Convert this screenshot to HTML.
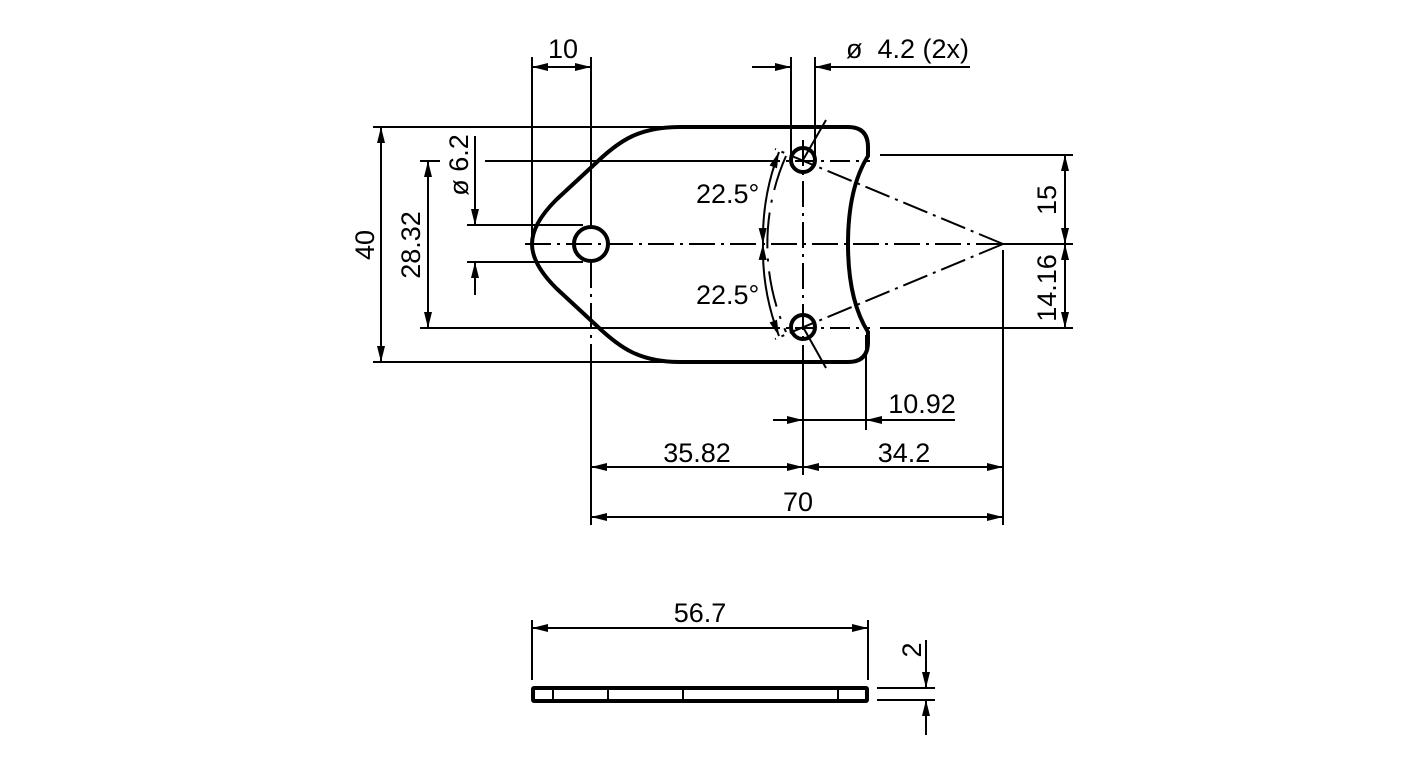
<!DOCTYPE html>
<html><head><meta charset="utf-8"><style>
html,body{margin:0;padding:0;background:#fff;}
svg{display:block;}
text{font-family:"Liberation Sans",sans-serif;font-size:27px;fill:#000;}
</style></head><body>
<svg width="1416" height="779" viewBox="0 0 1416 779" xmlns="http://www.w3.org/2000/svg">
<defs>
<marker id="a" viewBox="0 0 16 8" refX="16" refY="4" markerWidth="16" markerHeight="8" markerUnits="userSpaceOnUse" orient="auto-start-reverse">
<path d="M0,0 L16,4 L0,8 Z" fill="#000"/></marker>
</defs>
<g stroke="#000" fill="none" stroke-width="2">
<path stroke-width="4" d="M680 127 C640 127 620 140 597 162 L556 200 Q532 224 532 244 Q532 264 556 288 L597 326 C620 348 640 362 680 362 L848 362 Q868 362 868 342 L868 332 Q848 300 848 244 Q848 188 868 156 L868 147 Q868 127 848 127 Z"/>
<circle cx="591" cy="244" r="17" stroke-width="4"/>
<circle cx="803" cy="160" r="12" stroke-width="4"/>
<circle cx="803" cy="327" r="12" stroke-width="4"/>
<line x1="525" y1="244" x2="1015" y2="244" stroke-dasharray="26,6,3,6"/>
<line x1="591" y1="262" x2="591" y2="345" stroke-dasharray="26,6,3,6"/>
<line x1="803" y1="140" x2="803" y2="345" stroke-dasharray="26,6,3,6"/>
<line x1="1003" y1="244" x2="775" y2="149" stroke-dasharray="26,6,3,6"/>
<line x1="1003" y1="244" x2="775" y2="339" stroke-dasharray="26,6,3,6"/>
<path d="M786 156 A217 217 0 0 0 786 332" stroke-dasharray="36,10,3,10"/>
<line x1="803" y1="160" x2="826" y2="120"/>
<line x1="803" y1="327" x2="826" y2="368"/>
<line x1="373" y1="127" x2="680" y2="127"/>
<line x1="373" y1="362" x2="680" y2="362"/>
<line x1="420" y1="161" x2="440" y2="161"/>
<line x1="485" y1="161" x2="760" y2="161"/>
<line x1="420" y1="328" x2="760" y2="328"/>
<line x1="760" y1="161" x2="870" y2="161" stroke-dasharray="20,6,3,6"/>
<line x1="760" y1="328" x2="870" y2="328" stroke-dasharray="20,6,3,6"/>
<line x1="880" y1="155" x2="1073" y2="155"/>
<line x1="880" y1="328" x2="1073" y2="328"/>
<line x1="467" y1="225" x2="583" y2="225"/>
<line x1="467" y1="262" x2="583" y2="262"/>
<line x1="381" y1="127" x2="381" y2="362" marker-start="url(#a)" marker-end="url(#a)"/>
<line x1="428" y1="161" x2="428" y2="328" marker-start="url(#a)" marker-end="url(#a)"/>
<line x1="475" y1="136" x2="475" y2="225" marker-end="url(#a)"/>
<line x1="475" y1="295" x2="475" y2="262" marker-end="url(#a)"/>
<line x1="532" y1="57" x2="532" y2="236"/>
<line x1="591" y1="57" x2="591" y2="226"/>
<line x1="532" y1="67" x2="591" y2="67" marker-start="url(#a)" marker-end="url(#a)"/>
<line x1="791" y1="57" x2="791" y2="160"/>
<line x1="815" y1="57" x2="815" y2="160"/>
<line x1="752" y1="67" x2="791" y2="67" marker-end="url(#a)"/>
<line x1="970" y1="67" x2="815" y2="67" marker-end="url(#a)"/>
<line x1="1065" y1="155" x2="1065" y2="244" marker-start="url(#a)" marker-end="url(#a)"/>
<line x1="1065" y1="244" x2="1065" y2="328" marker-start="url(#a)" marker-end="url(#a)"/>
<line x1="1003" y1="244" x2="1073" y2="244"/>
<path d="M779 152 A240 240 0 0 0 763 244" marker-start="url(#a)" marker-end="url(#a)"/>
<path d="M763 244 A240 240 0 0 0 779 336" marker-start="url(#a)" marker-end="url(#a)"/>
<line x1="591" y1="345" x2="591" y2="525"/>
<line x1="803" y1="345" x2="803" y2="475"/>
<line x1="1003" y1="250" x2="1003" y2="525"/>
<line x1="866" y1="335" x2="866" y2="430"/>
<line x1="773" y1="420" x2="803" y2="420" marker-end="url(#a)"/>
<line x1="955" y1="420" x2="866" y2="420" marker-end="url(#a)"/>
<line x1="803" y1="420" x2="866" y2="420"/>
<line x1="591" y1="467" x2="803" y2="467" marker-start="url(#a)" marker-end="url(#a)"/>
<line x1="803" y1="467" x2="1003" y2="467" marker-start="url(#a)" marker-end="url(#a)"/>
<line x1="591" y1="517" x2="1003" y2="517" marker-start="url(#a)" marker-end="url(#a)"/>
<rect x="533" y="688" width="334" height="13" rx="1" stroke-width="4"/>
<line x1="553" y1="688" x2="553" y2="701"/>
<line x1="608" y1="688" x2="608" y2="701"/>
<line x1="683" y1="688" x2="683" y2="701"/>
<line x1="838" y1="688" x2="838" y2="701"/>
<line x1="532" y1="620" x2="532" y2="680"/>
<line x1="868" y1="620" x2="868" y2="680"/>
<line x1="532" y1="628" x2="868" y2="628" marker-start="url(#a)" marker-end="url(#a)"/>
<line x1="877" y1="688" x2="935" y2="688"/>
<line x1="877" y1="700" x2="935" y2="700"/>
<line x1="926" y1="640" x2="926" y2="688" marker-end="url(#a)"/>
<line x1="926" y1="735" x2="926" y2="700" marker-end="url(#a)"/>
</g>
<text x="563" y="58" text-anchor="middle">10</text>
<text x="846" y="58" xml:space="preserve">ø  4.2 (2x)</text>
<text transform="translate(374,245) rotate(-90)" text-anchor="middle">40</text>
<text transform="translate(420,245) rotate(-90)" text-anchor="middle">28.32</text>
<text transform="translate(468,165) rotate(-90)" text-anchor="middle">ø 6.2</text>
<text x="696" y="203">22.5°</text>
<text x="696" y="304">22.5°</text>
<text transform="translate(1056,200) rotate(-90)" text-anchor="middle">15</text>
<text transform="translate(1056,288) rotate(-90)" text-anchor="middle">14.16</text>
<text x="922" y="413" text-anchor="middle">10.92</text>
<text x="697" y="462" text-anchor="middle">35.82</text>
<text x="904" y="462" text-anchor="middle">34.2</text>
<text x="798" y="511" text-anchor="middle">70</text>
<text x="700" y="622" text-anchor="middle">56.7</text>
<text transform="translate(921,650) rotate(-90)" text-anchor="middle">2</text>
</svg>
</body></html>
